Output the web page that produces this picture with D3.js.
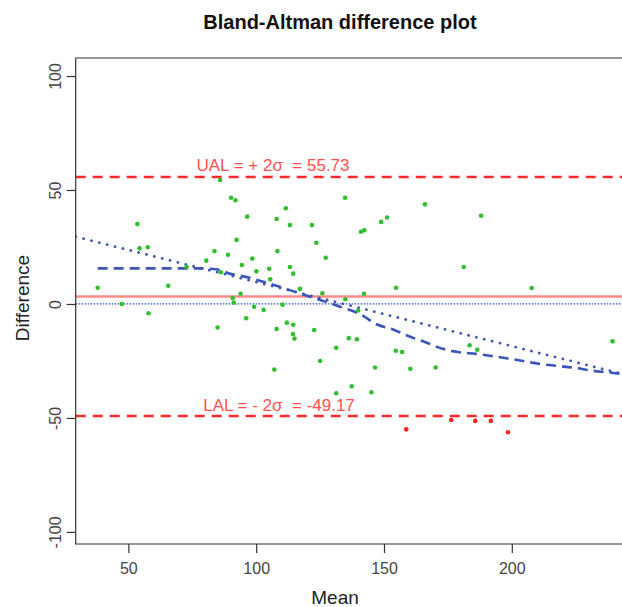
<!DOCTYPE html>
<html>
<head>
<meta charset="utf-8">
<script src="https://cdn.jsdelivr.net/npm/d3@7"></script>
<style>
  body { margin: 0; background: #fff; }
  svg { display: block; font-family: "Liberation Sans", Arial, sans-serif; }
</style>
</head>
<body>
<div id="chart"></div>
<script>
// Values
const meanVals = [38.0, 47.4, 53.5, 54.4, 57.6, 57.9, 65.6, 72.8, 80.5, 83.7, 84.9, 85.9, 86.2, 89.0, 90.2,
  91.9, 92.3, 90.8, 91.2, 93.9, 94.4, 96.1, 96.5, 98.5, 99.2, 100.1, 102.9, 105.1, 105.5, 107.1,
  108.0, 108.0, 108.3, 110.3, 111.6, 112.0, 113.2, 113.2, 114.5, 114.5, 114.4, 115.0, 117.1, 121.8,
  122.7, 123.5, 125.0, 125.9, 127.2, 131.3, 131.3, 134.8, 134.9, 136.2, 137.4, 139.4, 139.9, 141.0,
  142.3, 142.2, 145.1, 146.5, 148.9, 151.2, 154.6, 154.7, 157.1, 160.3, 166.0, 170.2, 181.2, 183.5,
  186.5, 188.0, 207.8, 239.4];
const diffVals = [7.1, 0.0, 35.1, 24.4, 24.9, -4.1, 8.0, 16.2, 19.0, 23.2, -10.3, 54.4, 13.9, 21.6, 46.6,
  45.5, 28.1, 2.6, 0.6, 4.5, 17.1, -6.3, 38.3, 19.9, -1.2, 14.3, -2.6, 15.4, 10.8, -28.8,
  37.3, -11.0, 23.2, -0.3, 42.0, -8.2, 34.6, 16.2, 13.3, -9.1, -13.2, -15.2, 6.6, 34.6,
  -11.4, 26.8, -25.0, 4.7, 20.3, -19.2, -39.2, 46.6, 2.1, -15.0, -36.1, -15.5, -2.9, 31.7,
  32.3, 4.5, -38.7, -27.9, 36.0, 37.9, -20.5, 7.1, -21.1, -28.4, 43.7, -27.9, 16.2, -18.1,
  -20.1, 38.7, 7.0, -16.4];

// points below the lower limit
const outMean = [158.7, 176.3, 185.7, 191.8, 198.5];
const outDiff = [-55.0, -50.9, -51.3, -51.3, -56.3];

const meanDiff = 3.28;
const ual = 55.73;
const lal = -49.17;

// straight trend line (dotted) and smooth curve (dashed)
const regX = [29.4, 243.0];
const regY = [29.5, -30.6];
const loessX = [38, 59, 78.5, 85, 90, 95, 107, 119, 132, 142, 146.5, 154, 160, 166.5, 173, 179,
  186, 192, 198.5, 211, 218, 225, 231, 237.5, 243];
const loessY = [15.6, 15.6, 15.6, 15.1, 13.2, 12.1, 8.3, 3.9, -0.9, -5.3, -8.6, -11.4, -14.3, -16.9,
  -19.7, -21.1, -21.9, -22.8, -23.9, -26.3, -27.2, -28.1, -29.2, -30.0, -30.7];

const xTicks = [50, 100, 150, 200];
const yTicks = [-100, -50, 0, 50, 100];

const w = 622, h = 607;
const pLeft = 75.7, pRight = 634.5, pTop = 58, pBottom = 544;

const svg = d3.select('#chart')
  .append('svg')
  .attr('width', w)
  .attr('height', h);

const xScale = d3.scaleLinear().domain([29.4, 248]).range([pLeft, pRight]);
const yScale = d3.scaleLinear().domain([-105.3, 107.9]).range([pBottom, pTop]);

// Title
svg.append('text')
  .attr('x', 340)
  .attr('y', 29)
  .attr('text-anchor', 'middle')
  .style('font-size', '20px')
  .style('font-weight', 'bold')
  .style('fill', '#111')
  .text('Bland-Altman difference plot');

// clip the marks to the plot region
svg.append('clipPath').attr('id', 'plotClip')
  .append('rect')
  .attr('x', pLeft).attr('y', pTop)
  .attr('width', pRight - pLeft).attr('height', pBottom - pTop);

const plot = svg.append('g').attr('clip-path', 'url(#plotClip)');

// reference lines
const hLine = (val, color, width, dash) => {
  plot.append('line')
    .attr('x1', pLeft).attr('x2', pRight)
    .attr('y1', yScale(val)).attr('y2', yScale(val))
    .attr('stroke', color)
    .attr('stroke-width', width)
    .attr('stroke-dasharray', dash);
};
hLine(ual, '#ff2a2a', 2.5, '10,7');
hLine(lal, '#ff2a2a', 2.5, '10,7');
hLine(meanDiff, '#ff8a8a', 2.5, null);
hLine(0, '#3344bb', 1.2, '1.5,1.5');

// trend lines
const line = d3.line()
  .x((d) => xScale(d[0]))
  .y((d) => yScale(d[1]));

plot.append('path')
  .attr('d', line(d3.zip(regX, regY)))
  .attr('fill', 'none')
  .attr('stroke', '#3f58b8')
  .attr('stroke-width', 2.8)
  .attr('stroke-linecap', 'round')
  .attr('stroke-dasharray', '0.1,8');

plot.append('path')
  .attr('d', line.curve(d3.curveMonotoneX)(d3.zip(loessX, loessY)))
  .attr('fill', 'none')
  .attr('stroke', '#3a55b5')
  .attr('stroke-width', 2.6)
  .attr('stroke-dasharray', '10,6');

// points
plot.selectAll('circle.in')
  .data(d3.zip(meanVals, diffVals))
  .enter()
  .append('circle')
  .attr('class', 'in')
  .attr('cx', (d) => xScale(d[0]))
  .attr('cy', (d) => yScale(d[1]))
  .attr('r', 2.3)
  .attr('fill', '#2fbf2f');

plot.selectAll('circle.out')
  .data(d3.zip(outMean, outDiff))
  .enter()
  .append('circle')
  .attr('class', 'out')
  .attr('cx', (d) => xScale(d[0]))
  .attr('cy', (d) => yScale(d[1]))
  .attr('r', 2.3)
  .attr('fill', '#ff2020');

// limit labels
svg.append('text')
  .attr('x', 273)
  .attr('y', yScale(ual) - 6)
  .attr('text-anchor', 'middle')
  .style('font-size', '17px')
  .style('fill', '#ff5050')
  .style('white-space', 'pre')
  .text('UAL = + 2σ  = 55.73');

svg.append('text')
  .attr('x', 279)
  .attr('y', yScale(lal) - 5)
  .attr('text-anchor', 'middle')
  .style('font-size', '17px')
  .style('fill', '#ff5050')
  .style('white-space', 'pre')
  .text('LAL = - 2σ  = -49.17');

// box (left, top and bottom sides)
svg.append('path')
  .attr('d', `M${pRight},${pTop}H${pLeft}V${pBottom}H${pRight}`)
  .attr('fill', 'none')
  .attr('stroke', '#333')
  .attr('stroke-width', 1.2);

// Axes
const x_axis = d3.axisBottom(xScale).tickValues(xTicks).tickSize(9).tickPadding(10)
  .tickFormat((d) => String(d));
const y_axis = d3.axisLeft(yScale).tickValues(yTicks).tickSize(9).tickPadding(6)
  .tickFormat((d) => String(d));

const gx = svg.append('g')
  .attr('transform', 'translate(0,' + pBottom + ')')
  .call(x_axis);
gx.select('.domain').remove();
gx.selectAll('line').attr('stroke', '#333').attr('stroke-width', 1.2);
gx.selectAll('text')
  .style('font-size', '16px')
  .style('font-family', '"Liberation Sans", Arial, sans-serif')
  .style('fill', '#444');

const gy = svg.append('g')
  .attr('transform', 'translate(' + pLeft + ',0)')
  .call(y_axis);
gy.select('.domain').remove();
gy.selectAll('line').attr('stroke', '#333').attr('stroke-width', 1.2);
gy.selectAll('.tick text')
  .style('font-size', '16px')
  .style('font-family', '"Liberation Sans", Arial, sans-serif')
  .style('fill', '#444')
  .attr('text-anchor', 'middle')
  .attr('x', 0)
  .attr('dy', 0)
  .attr('transform', 'translate(-15,0) rotate(-90)');

// axis titles
svg.append('text')
  .attr('x', 335)
  .attr('y', 604)
  .attr('text-anchor', 'middle')
  .style('font-size', '19px')
  .style('fill', '#222')
  .text('Mean');

svg.append('text')
  .attr('transform', 'translate(29,298) rotate(-90)')
  .attr('text-anchor', 'middle')
  .style('font-size', '19px')
  .style('fill', '#222')
  .text('Difference');
</script>
</body>
</html>
